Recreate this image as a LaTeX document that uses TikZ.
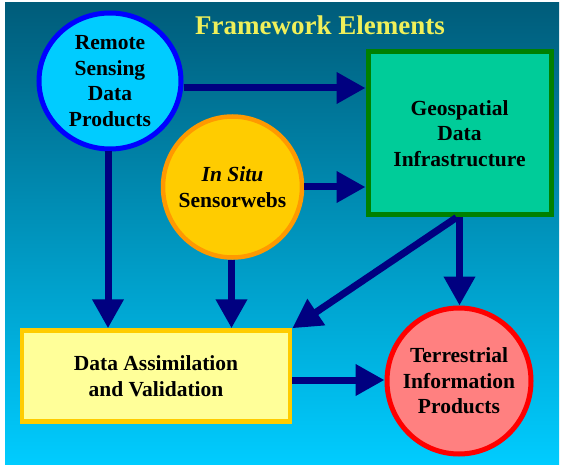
\documentclass[tikz,border=0pt]{standalone}
\usepackage{fontspec}
\setmainfont{Liberation Serif}
\usetikzlibrary{shapes.geometric,arrows.meta}
\definecolor{bgtop}{RGB}{0,92,122}
\definecolor{bgbot}{RGB}{0,204,255}
\definecolor{titlecol}{RGB}{240,240,90}
\definecolor{navyarrow}{RGB}{0,0,128}
\definecolor{rsfill}{RGB}{0,204,255}
\definecolor{rsline}{RGB}{0,0,255}
\definecolor{geofill}{RGB}{0,204,153}
\definecolor{geoline}{RGB}{0,128,0}
\definecolor{isfill}{RGB}{255,204,0}
\definecolor{isline}{RGB}{255,153,0}
\definecolor{dafill}{RGB}{255,255,153}
\definecolor{daline}{RGB}{255,204,0}
\definecolor{tifill}{RGB}{255,128,128}
\definecolor{tiline}{RGB}{255,0,0}
\tikzset{
  lbl/.style={font=\fontsize{21.5}{25.5}\selectfont\bfseries, align=center, text=black, inner sep=0pt},
  circnode/.style={lbl, ellipse, line width=5pt, inner sep=-14pt},
  boxnode/.style={lbl, rectangle, line width=5pt},
  conn/.style={draw=navyarrow, line width=7pt, -{Triangle[length=29pt,width=30pt]}}
}
\begin{document}
\begin{tikzpicture}[x=1pt,y=-1pt]
\useasboundingbox (0,0) rectangle (565,465);
\shade[top color=bgtop, bottom color=bgbot] (5,3) rectangle (559,464);
\node[font=\fontsize{27}{30}\selectfont\bfseries, text=titlecol, inner sep=0pt] (title) at (320,25) {Framework Elements};
\node[circnode, draw=rsline, fill=rsfill, minimum width=142pt, minimum height=136pt] (rs) at (110,81) {Remote\\Sensing\\Data\\Products};
\node[boxnode, draw=geoline, fill=geofill, minimum width=183pt, minimum height=163pt] (geo) at (459.5,133.5) {Geospatial\\Data\\Infrastructure};
\node[circnode, line width=4.5pt, draw=isline, fill=isfill, minimum width=139pt, minimum height=141pt] (is) at (232.5,187) {\textit{In Situ}\\Sensorwebs};
\node[boxnode, line width=4.5pt, draw=daline, fill=dafill, minimum width=268pt, minimum height=91pt] (da) at (156,376) {Data Assimilation\\and Validation};
\node[circnode, draw=tiline, fill=tifill, minimum width=144pt, minimum height=146pt] (ti) at (459,381) {Terrestrial\\Information\\Products};
\draw[conn] ([yshift=-7pt]rs.east) -- ([yshift=-7pt]rs.east -| geo.west);
\draw[conn] (is.east) -- (is.east -| geo.west);
\draw[conn] ([xshift=-2pt]rs.south) -- ([xshift=-2pt]rs.south |- da.north);
\draw[conn] ([xshift=-1pt]is.south) -- ([xshift=-1pt]is.south |- da.north);
\draw[conn] ([yshift=-4pt]da.east) -- ([yshift=-4pt]da.east -| ti.west);
\draw[conn] (geo.south) -- (geo.south |- ti.north);
\draw[conn] ([xshift=-3pt]geo.south) -- (da.north east);
\end{tikzpicture}
\end{document}
